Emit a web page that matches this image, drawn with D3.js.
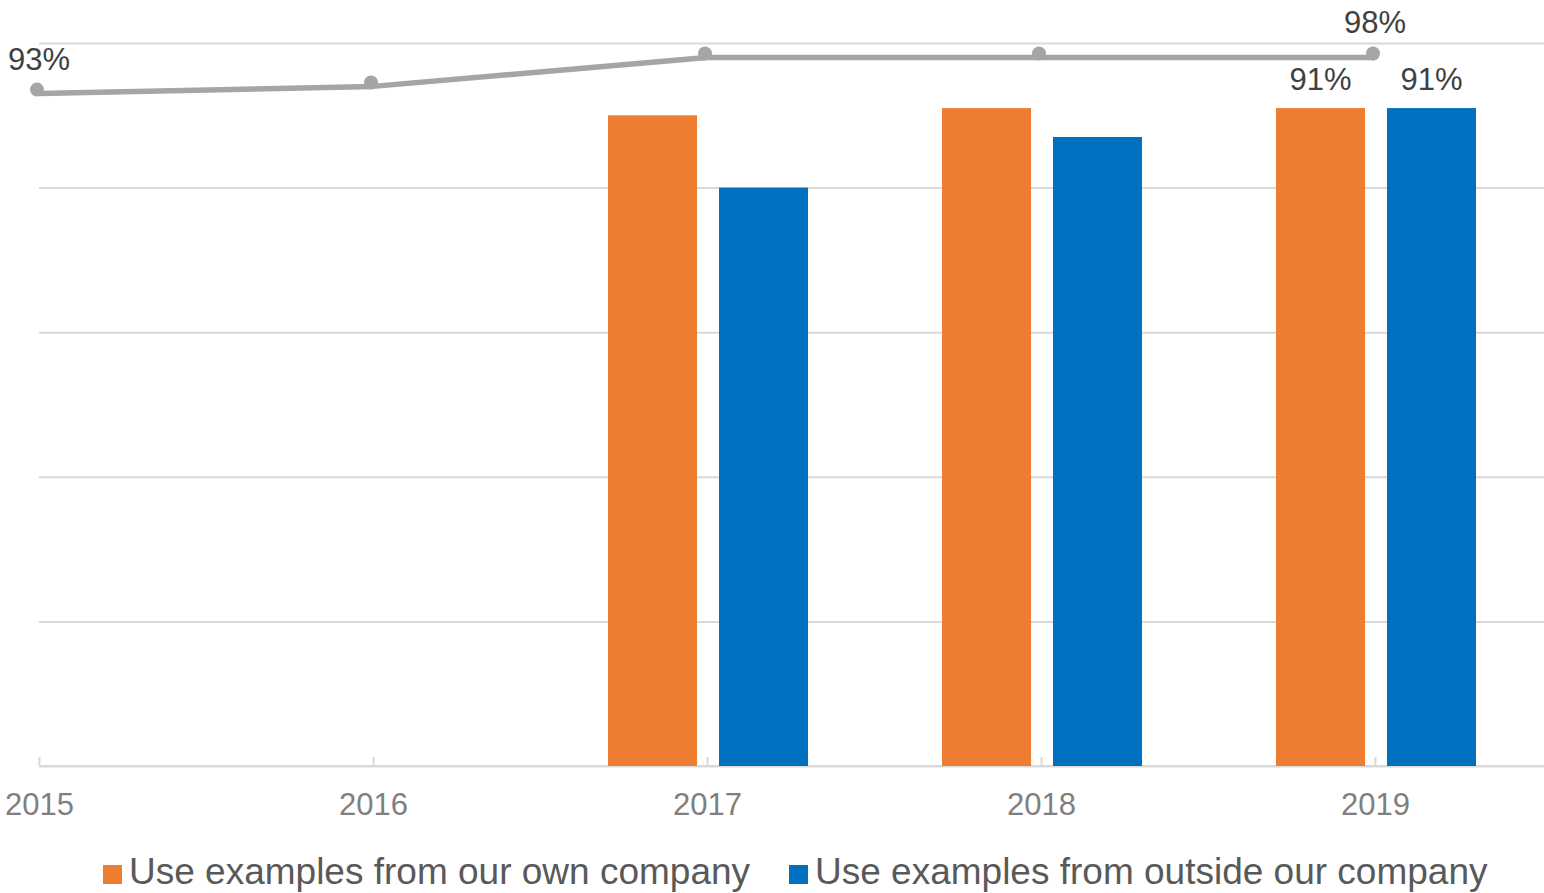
<!DOCTYPE html>
<html>
<head>
<meta charset="utf-8">
<script src="https://cdn.jsdelivr.net/npm/d3@7"></script>
<style>
    body { margin: 0; background: #fff; }
    svg { display: block; font-family: "Liberation Sans", Arial, sans-serif; }
</style>
</head>
<body>
<svg id="chart" width="1544" height="893"></svg>
<script>
// data
const years = ['2015', '2016', '2017', '2018', '2019'];
const seriesNames = ['Use examples from our own company', 'Use examples from outside our company'];
const ownCompany = [null, null, 90, 91, 91];
const outsideCompany = [null, null, 80, 87, 91];
const overall = [93, 94, 98, 98, 98];
const yTicks = [0, 20, 40, 60, 80, 100];
// which points get a value label
const lineLabelYears = ['2015', '2019'];
const barLabelYears = ['2019'];

const colors = ['#ED7D31', '#0070C0'];
const lineColor = '#A5A5A5';

let svg = d3.select('svg#chart'),
    width = +svg.attr('width'),
    plot = {left: 39, right: 1375, top: 43, bottom: 766};

let xScale = d3.scalePoint()
    .domain(years)
    .range([plot.left, plot.right]);

let yScale = d3.scaleLinear()
    .domain([0, 100])
    .range([plot.bottom, plot.top]);

// bars sit around each category point
let x1 = d3.scaleBand()
    .domain(seriesNames)
    .range([-99, 101])
    .paddingInner(0.198);

// gridlines
let yAxis = d3.axisLeft(yScale)
    .tickValues(yTicks)
    .tickSize(-(width - plot.left))
    .tickFormat('');
let gy = svg.append('g')
    .attr('transform', 'translate(' + plot.left + ',0)')
    .call(yAxis);
gy.select('.domain').remove();
gy.selectAll('line').attr('stroke', '#D9D9D9').attr('stroke-width', 2);

// x axis, ticks pointing up
let xAxis = d3.axisBottom(xScale)
    .tickSizeInner(-9)
    .tickSizeOuter(0)
    .tickPadding(27);
let gx = svg.append('g')
    .attr('transform', 'translate(0,' + plot.bottom + ')')
    .call(xAxis);
gx.select('.domain').remove();
gx.append('line')
    .attr('x1', plot.left).attr('x2', width)
    .attr('stroke', '#D9D9D9').attr('stroke-width', 2);
gx.selectAll('.tick line').attr('stroke', '#D9D9D9').attr('stroke-width', 2);
gx.selectAll('.tick text')
    .attr('fill', '#7F7F7F')
    .style('font-size', '31px');

// bars
let barData = [];
years.forEach(function (yr, i) {
    [ownCompany[i], outsideCompany[i]].forEach(function (v, s) {
        if (v !== null) barData.push({year: yr, series: seriesNames[s], value: v, color: colors[s]});
    });
});

svg.append('g').selectAll('rect.bar')
    .data(barData)
    .enter().append('rect')
    .attr('class', 'bar')
    .attr('x', d => xScale(d.year) + x1(d.series))
    .attr('width', x1.bandwidth())
    .attr('y', d => yScale(d.value))
    .attr('height', d => plot.bottom - yScale(d.value))
    .style('fill', d => d.color);

svg.append('g').selectAll('text.barLabel')
    .data(barData.filter(d => barLabelYears.includes(d.year)))
    .enter().append('text')
    .attr('class', 'barLabel')
    .attr('x', d => xScale(d.year) + x1(d.series) + x1.bandwidth() / 2)
    .attr('y', d => yScale(d.value) - 18)
    .attr('text-anchor', 'middle')
    .attr('fill', '#404040')
    .style('font-size', '31px')
    .text(d => d.value + '%');

// line series
let lineData = years.map((yr, i) => ({year: yr, value: overall[i]}));
let line = d3.line()
    .x(d => xScale(d.year))
    .y(d => yScale(d.value));

svg.append('path')
    .datum(lineData)
    .attr('d', line)
    .attr('fill', 'none')
    .attr('stroke', lineColor)
    .attr('stroke-width', 5.5)
    .attr('stroke-linejoin', 'round');

svg.append('g').selectAll('circle')
    .data(lineData)
    .enter().append('circle')
    .attr('cx', d => xScale(d.year) - 2)
    .attr('cy', d => yScale(d.value) - 4)
    .attr('r', 7)
    .attr('fill', lineColor);

svg.append('g').selectAll('text.lineLabel')
    .data(lineData.filter(d => lineLabelYears.includes(d.year)))
    .enter().append('text')
    .attr('class', 'lineLabel')
    .attr('x', d => xScale(d.year))
    .attr('y', d => yScale(d.value) - 24)
    .attr('text-anchor', 'middle')
    .attr('fill', '#404040')
    .style('font-size', '31px')
    .text(d => d.value + '%');

// legend
let legendX = [103, 789];
let legend = svg.append('g').selectAll('g.legend')
    .data(seriesNames)
    .enter().append('g')
    .attr('class', 'legend')
    .attr('transform', (d, i) => 'translate(' + legendX[i] + ',865)');
legend.append('rect')
    .attr('width', 19).attr('height', 19)
    .style('fill', (d, i) => colors[i]);
legend.append('text')
    .attr('x', 26)
    .attr('y', 19)
    .attr('fill', '#595959')
    .style('font-size', '37px')
    .text(d => d);
</script>
</body>
</html>
